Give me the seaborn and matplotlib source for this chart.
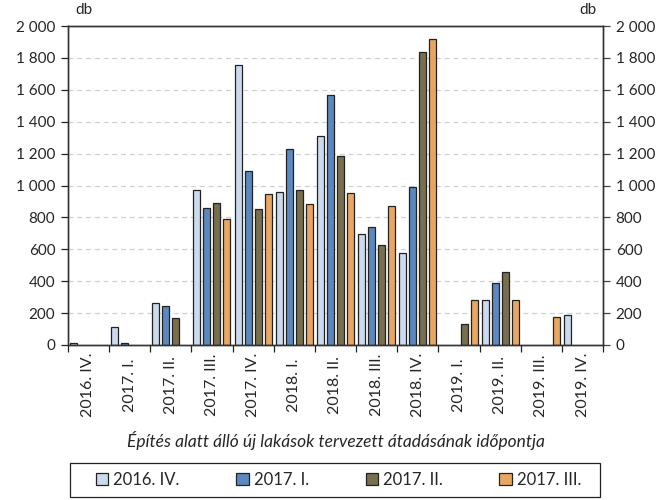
import matplotlib
matplotlib.use('Agg')
import matplotlib.pyplot as plt
import seaborn as sns
import numpy as np
import pandas as pd
from matplotlib.ticker import FuncFormatter
from matplotlib.patches import Rectangle

# categories on the x axis (planned handover quarter)
quarters = ['2016. IV.', '2017. I.', '2017. II.', '2017. III.', '2017. IV.',
            '2018. I.', '2018. II.', '2018. III.', '2018. IV.',
            '2019. I.', '2019. II.', '2019. III.', '2019. IV.']
# survey dates (hue)
series = ['2016. IV.', '2017. I.', '2017. II.', '2017. III.']
nan = np.nan
s_2016_iv = [15, 110, 265, 970, 1755, 960, 1310, 695, 575, nan, 285, nan, 185]
s_2017_i = [nan, 15, 245, 860, 1090, 1230, 1565, 740, 990, nan, 390, nan, nan]
s_2017_ii = [nan, nan, 170, 890, 850, 970, 1185, 630, 1840, 130, 455, nan, nan]
s_2017_iii = [nan, nan, nan, 790, 945, 885, 950, 870, 1920, 285, 280, 175, nan]
colors = ['#C6D9F1', '#4A86D0', '#7F7347', '#FFA64D']

rows = []
for name, vals in zip(series, [s_2016_iv, s_2017_i, s_2017_ii, s_2017_iii]):
    for q, v in zip(quarters, vals):
        rows.append({'quarter': q, 'series': name, 'value': v})
df = pd.DataFrame(rows).dropna()

sns.set_style('white')
plt.rcParams['font.family'] = ['Lato', 'DejaVu Sans']

fig = plt.figure(figsize=(6.65, 5), dpi=100)
ax = fig.add_axes([0.102, 0.31, 0.805, 0.638])

sns.barplot(data=df, x='quarter', y='value', hue='series', order=quarters,
            hue_order=series, palette=colors, width=0.97, gap=0.3,
            edgecolor='#222222', linewidth=0.9, errorbar=None, ax=ax,
            legend=True)

fmt = FuncFormatter(lambda v, p: f'{int(v):,}'.replace(',', ' '))
ax.set_ylim(0, 2000)
ax.set_yticks(range(0, 2001, 200))
ax.yaxis.set_major_formatter(fmt)
ax.set_xlim(-0.5, len(quarters) - 0.5)
ax.grid(axis='y', color='#d0d0d0', linestyle=(0, (4, 3)), linewidth=0.9)
ax.set_axisbelow(True)

ax.set_xticks(range(len(quarters)))
ax.set_xticklabels(quarters, rotation=90, fontsize=11.5, va='center')
ax.set_xticks(np.arange(-0.5, len(quarters), 1), minor=True)
ax.tick_params(axis='x', which='major', length=0, pad=29)
ax.tick_params(axis='x', which='minor', length=5, width=0.9, color='#222222', direction='out', bottom=True)
ax.tick_params(axis='y', length=5, width=0.9, color='#222222', left=True, labelsize=11, pad=4)

ax2 = ax.twinx()
ax2.set_ylim(0, 2000)
ax2.set_yticks(range(0, 2001, 200))
ax2.yaxis.set_major_formatter(fmt)
ax2.tick_params(axis='y', length=5, width=0.9, color='#444444', right=True, labelsize=11, pad=4)

for a in (ax, ax2):
    for side in ['left', 'right', 'top', 'bottom']:
        a.spines[side].set_color('#333333')
        a.spines[side].set_linewidth(1.0)

ax.set_ylabel('')
ax.set_xlabel('Építés alatt álló új lakások tervezett átadásának időpontja',
              fontsize=12.5, style='italic', va='center')
ax.xaxis.set_label_coords(0.5, -0.298)
fig.text(0.113, 0.967, 'db', fontsize=11, ha='left', va='bottom')
fig.text(0.897, 0.967, 'db', fontsize=11, ha='right', va='bottom')

# legend: frame drawn separately, entries centred inside it
handles, labels = ax.get_legend_handles_labels()
ax.get_legend().remove()
fig.patches.append(Rectangle((70 / 665, 0.006), 530 / 665, 0.068,
                             transform=fig.transFigure, fill=False,
                             edgecolor='#222222', linewidth=0.9))
leg = fig.legend(handles, labels, loc='center', ncol=4,
                 bbox_to_anchor=(338.5 / 665, 0.04), frameon=False,
                 fontsize=12, handlelength=0.75, handleheight=0.75,
                 handletextpad=0.3, columnspacing=3.4, borderaxespad=0)

fig.savefig('out.png', dpi=100)
